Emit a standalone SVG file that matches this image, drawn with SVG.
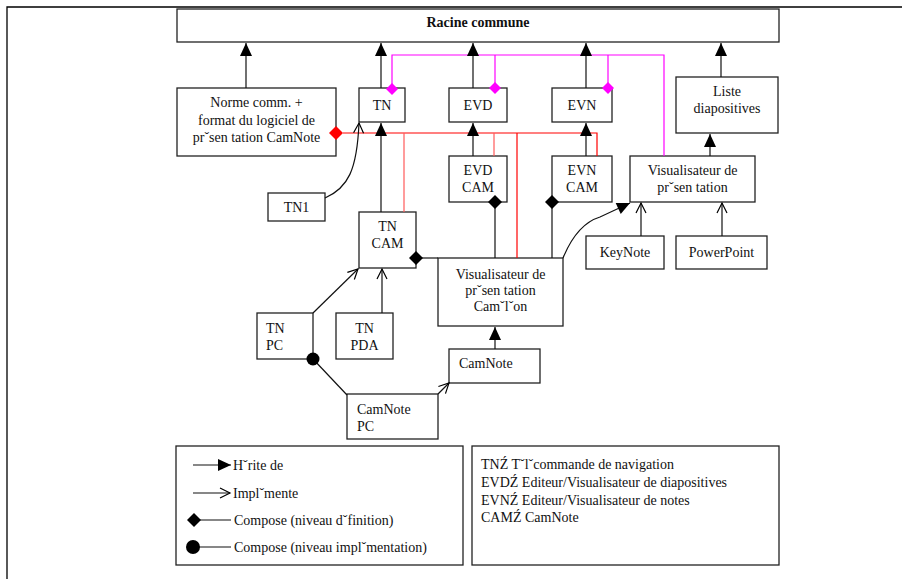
<svg xmlns="http://www.w3.org/2000/svg" width="902" height="579" viewBox="0 0 902 579">
  <style>
    .box { fill: #fff; stroke: #222; stroke-width: 1.3; }
    .t { font-family: "Liberation Serif", "Times New Roman", serif; font-size: 14px; fill: #111; }
    .c { text-anchor: middle; }
    .b { font-weight: bold; }
    .ln { stroke: #111; stroke-width: 1.2; fill: none; }
    .mg { stroke: #ff00ff; stroke-width: 1.2; fill: none; }
    .rd { stroke: #ff0000; stroke-width: 1.2; fill: none; }
    .rl { stroke: #ff5a5a; stroke-width: 1.2; fill: none; }
    .dia { fill: #000; }
    .dmg { fill: #ff00ff; }
    .drd { fill: #ff0000; }
  </style>
  <defs>
    <!-- filled head: inheritance -->
    <marker id="inh" markerUnits="userSpaceOnUse" markerWidth="14" markerHeight="13" refX="13" refY="6" orient="auto" overflow="visible">
      <path d="M0,0 L13,6 L0,12 z" fill="#000"/>
    </marker>
    <!-- open head: implementation -->
    <marker id="impl" markerUnits="userSpaceOnUse" markerWidth="12" markerHeight="12" refX="10" refY="5" orient="auto" overflow="visible">
      <path d="M0,0 L10,5 L0,10" fill="none" stroke="#000" stroke-width="1.2"/>
    </marker>
  </defs>

  <rect width="902" height="579" fill="#fff"/>
  <!-- page frame -->
  <path d="M7,579 V7 H902" fill="none" stroke="#000" stroke-width="1.3"/>

  <!-- nodes -->
  <g id="racine">
    <rect class="box" x="177" y="9" width="602" height="33"/>
    <text class="t c b" x="478" y="27">Racine commune</text>
  </g>
  <g id="norme">
    <rect class="box" x="177" y="88" width="159" height="68"/>
    <text class="t c" x="256.5" y="107">Norme comm. +</text>
    <text class="t c" x="256.5" y="125">format du logiciel de</text>
    <text class="t c" x="256.5" y="142">prˇsen tation CamNote</text>
  </g>
  <g id="tn">
    <rect class="box" x="359" y="88" width="46" height="34"/>
    <text class="t c" x="382" y="110">TN</text>
  </g>
  <g id="evd">
    <rect class="box" x="449" y="88" width="58" height="34"/>
    <text class="t c" x="478" y="110">EVD</text>
  </g>
  <g id="evn">
    <rect class="box" x="552" y="88" width="60" height="34"/>
    <text class="t c" x="582" y="110">EVN</text>
  </g>
  <g id="liste">
    <rect class="box" x="676" y="77" width="102" height="56"/>
    <text class="t c" x="727" y="96">Liste</text>
    <text class="t c" x="727" y="113">diapositives</text>
  </g>
  <g id="evdcam">
    <rect class="box" x="449" y="156" width="58" height="46"/>
    <text class="t c" x="478" y="175">EVD</text>
    <text class="t c" x="478" y="192">CAM</text>
  </g>
  <g id="evncam">
    <rect class="box" x="552" y="156" width="60" height="46"/>
    <text class="t c" x="582" y="175">EVN</text>
    <text class="t c" x="582" y="192">CAM</text>
  </g>
  <g id="visupres">
    <rect class="box" x="630" y="156" width="125" height="46"/>
    <text class="t c" x="692.5" y="175">Visualisateur de</text>
    <text class="t c" x="692.5" y="192">prˇsen tation</text>
  </g>
  <g id="tn1">
    <rect class="box" x="268" y="193" width="57" height="28"/>
    <text class="t c" x="296.5" y="212">TN1</text>
  </g>
  <g id="tncam">
    <rect class="box" x="359" y="212" width="57" height="56"/>
    <text class="t c" x="387.5" y="231">TN</text>
    <text class="t c" x="387.5" y="248">CAM</text>
  </g>
  <g id="keynote">
    <rect class="box" x="586" y="236" width="78" height="33"/>
    <text class="t c" x="625" y="257">KeyNote</text>
  </g>
  <g id="powerpoint">
    <rect class="box" x="676" y="236" width="91" height="33"/>
    <text class="t c" x="721.5" y="257">PowerPoint</text>
  </g>
  <g id="visucam">
    <rect class="box" x="438" y="258" width="125" height="68"/>
    <text class="t c" x="500.5" y="279">Visualisateur de</text>
    <text class="t c" x="500.5" y="295">prˇsen tation</text>
    <text class="t c" x="500.5" y="311">Camˇlˇon</text>
  </g>
  <g id="tnpc">
    <rect class="box" x="257" y="313" width="56" height="46"/>
    <text class="t" x="266" y="333">TN</text>
    <text class="t" x="266" y="350">PC</text>
  </g>
  <g id="tnpda">
    <rect class="box" x="336" y="313" width="57" height="46"/>
    <text class="t c" x="364.5" y="333">TN</text>
    <text class="t c" x="364.5" y="350">PDA</text>
  </g>
  <g id="camnote">
    <rect class="box" x="449" y="349" width="91" height="34"/>
    <text class="t" x="459" y="368">CamNote</text>
  </g>
  <g id="camnotepc">
    <rect class="box" x="347" y="394" width="91" height="45"/>
    <text class="t" x="357" y="414">CamNote</text>
    <text class="t" x="357" y="431">PC</text>
  </g>

  <!-- connectors (drawn over the boxes so end symbols stay whole) -->
  <g id="connectors">
    <!-- definition-level composition (magenta) -->
    <path class="mg" d="M392,89 V55 H664 V156"/>
    <path class="mg" d="M495,55 V88"/>
    <path class="mg" d="M608,55 V88"/>
    <polygon class="dmg" points="392,83 398,89 392,95 386,89"/>
    <polygon class="dmg" points="495,82 501,88 495,94 489,88"/>
    <polygon class="dmg" points="608,82 614,88 608,94 602,88"/>

    <!-- definition-level composition (red) -->
    <path class="rd" d="M343,133 H597 V156"/>
    <path class="rl" d="M404,133 V212"/>
    <path class="rl" d="M494,133 V156"/>
    <path class="rd" d="M517,133 V258"/>
    <polygon class="drd" points="336,126 343,133 336,140 329,133"/>

    <!-- inheritance -->
    <line class="ln" x1="246" y1="88" x2="246" y2="43" marker-end="url(#inh)"/>
    <line class="ln" x1="381" y1="88" x2="381" y2="43" marker-end="url(#inh)"/>
    <line class="ln" x1="473" y1="88" x2="473" y2="43" marker-end="url(#inh)"/>
    <line class="ln" x1="586" y1="88" x2="586" y2="43" marker-end="url(#inh)"/>
    <line class="ln" x1="721" y1="77" x2="721" y2="43" marker-end="url(#inh)"/>
    <line class="ln" x1="381" y1="212" x2="381" y2="123" marker-end="url(#inh)"/>
    <line class="ln" x1="473" y1="156" x2="473" y2="123" marker-end="url(#inh)"/>
    <line class="ln" x1="586" y1="156" x2="586" y2="123" marker-end="url(#inh)"/>
    <line class="ln" x1="710" y1="156" x2="710" y2="134" marker-end="url(#inh)"/>
    <line class="ln" x1="495" y1="349" x2="495" y2="327" marker-end="url(#inh)"/>
    <path class="ln" d="M563,258 Q577,224 600,217 L630,203" marker-end="url(#inh)"/>

    <!-- implementation -->
    <path class="ln" d="M325,198 C348,188 357,170 359,123" marker-end="url(#impl)"/>
    <line class="ln" x1="382" y1="313" x2="382" y2="269" marker-end="url(#impl)"/>
    <line class="ln" x1="313" y1="313" x2="358" y2="269" marker-end="url(#impl)"/>
    <line class="ln" x1="438" y1="394" x2="449" y2="383" marker-end="url(#impl)"/>
    <line class="ln" x1="641" y1="236" x2="641" y2="203" marker-end="url(#impl)"/>
    <line class="ln" x1="722" y1="236" x2="722" y2="203" marker-end="url(#impl)"/>

    <!-- composition -->
    <line class="ln" x1="416" y1="258" x2="438" y2="258"/>
    <polygon class="dia" points="416,251 423,258 416,265 409,258"/>
    <line class="ln" x1="495" y1="202" x2="495" y2="258"/>
    <polygon class="dia" points="495,195 502,202 495,209 488,202"/>
    <line class="ln" x1="552" y1="202" x2="552" y2="258"/>
    <polygon class="dia" points="552,195 559,202 552,209 545,202"/>
    <line class="ln" x1="313" y1="359" x2="347" y2="395"/>
    <circle cx="313" cy="359" r="6.5" fill="#000"/>
  </g>

  <!-- key of link kinds -->
  <g id="legende">
    <rect class="box" x="176" y="446" width="287" height="119"/>
    <line class="ln" x1="193" y1="465" x2="231" y2="465" marker-end="url(#inh)"/>
    <text class="t" x="233" y="470">Hˇrite de</text>
    <line class="ln" x1="193" y1="493" x2="230" y2="493" marker-end="url(#impl)"/>
    <text class="t" x="233" y="498">Implˇmente</text>
    <line class="ln" x1="194" y1="520" x2="231" y2="520"/>
    <polygon class="dia" points="194,513 201,520 194,527 187,520"/>
    <text class="t" x="234" y="525">Compose (niveau dˇfinition)</text>
    <line class="ln" x1="193" y1="547" x2="231" y2="547"/>
    <circle cx="193" cy="547" r="7" fill="#000"/>
    <text class="t" x="234" y="552">Compose (niveau implˇmentation)</text>
  </g>

  <!-- abbreviations -->
  <g id="abreviations">
    <rect class="box" x="472" y="446" width="307" height="119"/>
    <text class="t" x="481" y="469">TNŹ Tˇlˇcommande de navigation</text>
    <text class="t" x="481" y="487">EVDŹ Editeur/Visualisateur de diapositives</text>
    <text class="t" x="481" y="505">EVNŹ Editeur/Visualisateur de notes</text>
    <text class="t" x="481" y="522">CAMŹ CamNote</text>
  </g>
</svg>
